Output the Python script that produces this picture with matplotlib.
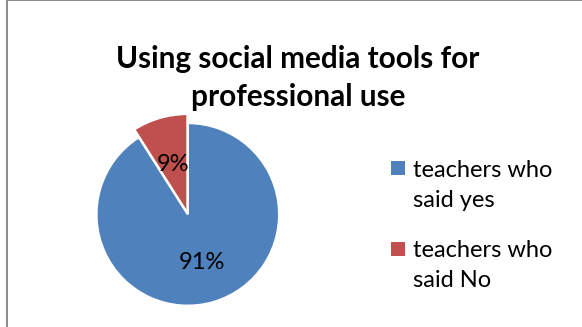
import matplotlib
matplotlib.use("Agg")
import matplotlib.pyplot as plt
from matplotlib.patches import Rectangle

# Chart data
categories = ["teachers who\nsaid yes", "teachers who\nsaid No"]
shares = [91, 9]
colors = ["#4F81BD", "#C0504D"]
title_lines = ["Using social media tools for", "professional use"]

W, H = 582, 327
plt.rcParams["font.family"] = ["Lato", "DejaVu Sans"]

fig = plt.figure(figsize=(W / 100, H / 100), dpi=100)
fig.patch.set_facecolor("white")


def fx(x):
    return x / W


def fy(y):
    return 1 - y / H


# chart frame (runs off the right and bottom edges)
fig.patches.append(Rectangle((fx(7), fy(400)), fx(700), 400 / H,
                             transform=fig.transFigure, fill=False,
                             edgecolor="#8a8a8a", linewidth=1.4))

# pie axes: centre (188, 214.4) px, radius 91.3 px
R = 91.3
cx, cy = 187.8, 214.4
lim = 1.2
side = 2 * lim * R
ax = fig.add_axes([fx(cx - side / 2), fy(cy + side / 2), side / W, side / H])

wedges, texts, autotexts = ax.pie(
    shares, colors=colors, startangle=90, counterclock=False,
    explode=[0, 0.015], autopct="%d%%", pctdistance=0.55,
    wedgeprops=dict(edgecolor="white", linewidth=1.6),
    textprops=dict(fontsize=17, color="black"))
wedges[1].set_radius(1.085)
for t in autotexts:
    t.set_verticalalignment("center")
ax.set_xlim(-lim, lim)
ax.set_ylim(-lim, lim)
ax.set_aspect("equal")
ax.axis("off")

# title
for line, base in zip(title_lines, [68.3, 105.7]):
    fig.text(fx(298), fy(base), line, ha="center", va="baseline",
             fontsize=21.4, fontweight="bold", color="black")

# legend
for i, (lab, col) in enumerate(zip(categories, colors)):
    top = 160.7 + i * 81
    fig.patches.append(Rectangle((fx(391), fy(top + 14)), 14 / W, 14 / H,
                                 transform=fig.transFigure,
                                 facecolor=col, edgecolor="none"))
    for j, part in enumerate(lab.split("\n")):
        fig.text(fx(413), fy(176.7 + i * 80 + j * 30), part, ha="left",
                 va="baseline", fontsize=17, color="black")

fig.savefig("out.png", dpi=100)
